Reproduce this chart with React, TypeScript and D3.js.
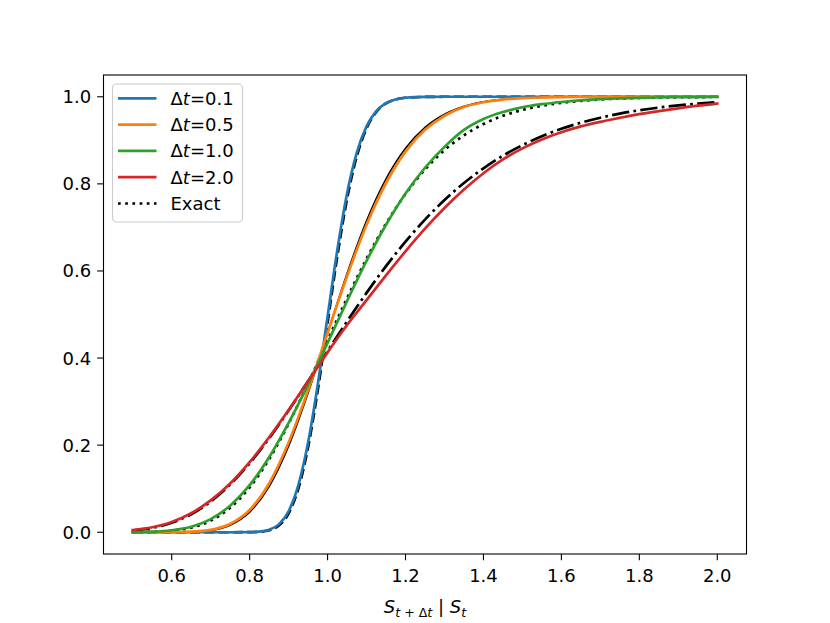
import React from 'react';
import * as d3 from 'd3';

// x grids (S_{t+dt} / S_t)
const xFine = [0.5, 0.6, 0.7, 0.75, 0.8, 0.825, 0.85, 0.875, 0.9, 0.925, 0.95, 0.975, 1.0, 1.025, 1.05, 1.075, 1.1, 1.125, 1.15, 1.175, 1.2, 1.25, 1.3, 1.4, 1.5, 1.6, 1.7, 1.8, 1.9, 2.0];
const xCoarse = [0.5, 0.55, 0.6, 0.65, 0.7, 0.75, 0.8, 0.85, 0.9, 0.95, 1.0, 1.05, 1.1, 1.15, 1.2, 1.25, 1.3, 1.35, 1.4, 1.45, 1.5, 1.55, 1.6, 1.65, 1.7, 1.75, 1.8, 1.85, 1.9, 1.95, 2.0];

// approximated CDFs
const cdfDt01 = [0, 0, 0, 0, 0.0003, 0.0015, 0.0055, 0.018, 0.048, 0.108, 0.206, 0.34, 0.495, 0.648, 0.778, 0.872, 0.932, 0.967, 0.9855, 0.994, 0.9978, 0.9997, 1, 1, 1, 1, 1, 1, 1, 1];
const cdfDt05 = [0, 0, 0.0002, 0.0012, 0.0055, 0.019, 0.051, 0.112, 0.206, 0.326, 0.458, 0.588, 0.706, 0.802, 0.874, 0.924, 0.9565, 0.9765, 0.9875, 0.9935, 0.9968, 0.9984, 0.9992, 0.9996, 0.9998, 0.9999, 1, 1, 1, 1, 1];
const cdfDt10 = [0.0003, 0.0012, 0.0045, 0.0125, 0.03, 0.061, 0.108, 0.172, 0.251, 0.339, 0.435, 0.531, 0.623, 0.706, 0.778, 0.837, 0.885, 0.924, 0.949, 0.965, 0.976, 0.983, 0.988, 0.9918, 0.9946, 0.9963, 0.9976, 0.9984, 0.999, 0.9994, 0.9996];
const cdfDt20 = [0.005, 0.0115, 0.0235, 0.0435, 0.073, 0.112, 0.161, 0.218, 0.2805, 0.3465, 0.413, 0.476, 0.533, 0.59, 0.645, 0.697, 0.7445, 0.787, 0.8245, 0.856, 0.8815, 0.902, 0.9185, 0.932, 0.9425, 0.9515, 0.96, 0.967, 0.9735, 0.9795, 0.9845];

// exact CDFs
const exactDt01 = [0, 0, 0, 0, 0.0002, 0.001, 0.0044, 0.0154, 0.0433, 0.1003, 0.1953, 0.3272, 0.4811, 0.6342, 0.7655, 0.8635, 0.9278, 0.9652, 0.9847, 0.9938, 0.9977, 0.9997, 1, 1, 1, 1, 1, 1, 1, 1];
const exactDt05 = [0, 0, 0.0001, 0.0008, 0.0043, 0.0162, 0.0461, 0.1047, 0.1974, 0.3196, 0.4578, 0.5944, 0.715, 0.8112, 0.8816, 0.9295, 0.9599, 0.9781, 0.9885, 0.9942, 0.9971, 0.9986, 0.9994, 0.9997, 0.9999, 0.9999, 1, 1, 1, 1, 1];
const exactDt10 = [0.0002, 0.0009, 0.0034, 0.0106, 0.0266, 0.0561, 0.1028, 0.1679, 0.2493, 0.3422, 0.4404, 0.5374, 0.628, 0.7084, 0.7769, 0.8329, 0.8773, 0.9116, 0.9373, 0.9562, 0.9698, 0.9794, 0.9861, 0.9907, 0.9938, 0.996, 0.9974, 0.9983, 0.9989, 0.9993, 0.9995];
const exactDt20 = [0.0039, 0.01, 0.0218, 0.0414, 0.0704, 0.1095, 0.1584, 0.2157, 0.2794, 0.347, 0.416, 0.4842, 0.5497, 0.611, 0.6673, 0.718, 0.7628, 0.802, 0.8358, 0.8647, 0.889, 0.9094, 0.9264, 0.9404, 0.9519, 0.9613, 0.969, 0.9752, 0.9802, 0.9842, 0.9874];

const xTicks = [0.6, 0.8, 1.0, 1.2, 1.4, 1.6, 1.8, 2.0];
const yTicks = [0.0, 0.2, 0.4, 0.6, 0.8, 1.0];

const W = 830;
const H = 623;
const margin = { left: 103.5, right: 746.5, top: 75, bottom: 554 };
const FONT = "'DejaVu Sans', sans-serif";
const LW = 2.7;

const series = [
  { label: '0.1', color: '#1f77b4', xs: xFine, ys: cdfDt01 },
  { label: '0.5', color: '#ff7f0e', xs: xCoarse, ys: cdfDt05 },
  { label: '1.0', color: '#2ca02c', xs: xCoarse, ys: cdfDt10 },
  { label: '2.0', color: '#d62728', xs: xCoarse, ys: cdfDt20 },
];

const exact = [
  { xs: xFine, ys: exactDt01, dash: '10 4.3' },
  { xs: xCoarse, ys: exactDt05, dash: null },
  { xs: xCoarse, ys: exactDt10, dash: '2.7 4.5' },
  { xs: xCoarse, ys: exactDt20, dash: '17.3 4.3 2.7 4.3' },
];

export default function App() {
  const x = d3.scaleLinear().domain([0.425, 2.075]).range([margin.left, margin.right]);
  const y = d3.scaleLinear().domain([-0.05, 1.05]).range([margin.bottom, margin.top]);

  const line = (xs: number[], ys: number[]) =>
    d3.line<number>()
      .x((_, i) => x(xs[i]))
      .y(d => y(d))
      .curve(d3.curveMonotoneX)(ys) || '';

  const legendX = 112.5;
  const legendY = 84;
  const rowH = 26.3;

  return (
    <svg width={W} height={H} style={{ position: 'absolute', left: 0, top: 0, background: '#fff' }} fontFamily={FONT}>
      <rect x={0} y={0} width={W} height={H} fill="#fff" />

      {/* exact curves underneath */}
      {exact.map((e, i) => (
        <path key={'e' + i} d={line(e.xs, e.ys)} fill="none" stroke="#000"
          strokeWidth={e.dash ? LW : 1.6}
          strokeDasharray={e.dash || undefined}
          strokeLinecap={e.dash ? 'butt' : 'square'} strokeLinejoin="round" />
      ))}

      {series.map((s, i) => (
        <path key={'s' + i} d={line(s.xs, s.ys)} fill="none" stroke={s.color}
          strokeWidth={LW} strokeLinecap="square" strokeLinejoin="round" />
      ))}

      {/* spines */}
      <rect x={margin.left} y={margin.top} width={margin.right - margin.left} height={margin.bottom - margin.top}
        fill="none" stroke="#000" strokeWidth={1.1} />

      {/* x axis */}
      {xTicks.map(t => (
        <g key={'x' + t}>
          <line x1={x(t)} x2={x(t)} y1={margin.bottom} y2={margin.bottom + 6.3} stroke="#000" strokeWidth={1.1} />
          <text x={x(t)} y={margin.bottom + 28} fontSize={18} textAnchor="middle" fill="#000">{t.toFixed(1)}</text>
        </g>
      ))}

      {/* y axis */}
      {yTicks.map(t => (
        <g key={'y' + t}>
          <line x1={margin.left - 6.3} x2={margin.left} y1={y(t)} y2={y(t)} stroke="#000" strokeWidth={1.1} />
          <text x={margin.left - 12.4} y={y(t) + 6.5} fontSize={18} textAnchor="end" fill="#000">{t.toFixed(1)}</text>
        </g>
      ))}

      {/* x label */}
      <text x={(margin.left + margin.right) / 2} y={613} fontSize={18} textAnchor="middle" fill="#000" style={{ whiteSpace: 'pre' }}>
        <tspan fontStyle="italic">S</tspan>
        <tspan fontSize={12.6} dy={4} fontStyle="italic">t</tspan>
        <tspan fontSize={12.6}>{' + Δ'}</tspan>
        <tspan fontSize={12.6} fontStyle="italic">t</tspan>
        <tspan dy={-4}>{' | '}</tspan>
        <tspan fontStyle="italic">S</tspan>
        <tspan fontSize={12.6} dy={4} fontStyle="italic">t</tspan>
      </text>

      {/* legend */}
      <rect x={legendX} y={legendY} width={130} height={138} rx={4} ry={4}
        fill="#fff" fillOpacity={0.8} stroke="#cccccc" strokeWidth={1.1} />
      {series.map((s, i) => {
        const cy = legendY + 14.3 + i * rowH;
        return (
          <g key={'l' + i}>
            <line x1={legendX + 5.5} x2={legendX + 44} y1={cy} y2={cy} stroke={s.color} strokeWidth={LW} />
            <text x={legendX + 58} y={cy + 6.5} fontSize={18} fill="#000">
              <tspan>Δ</tspan><tspan fontStyle="italic">t</tspan><tspan>={s.label}</tspan>
            </text>
          </g>
        );
      })}
      {(() => {
        const cy = legendY + 14.3 + 4 * rowH;
        return (
          <g>
            <line x1={legendX + 5.5} x2={legendX + 44} y1={cy} y2={cy} stroke="#000" strokeWidth={LW} strokeDasharray="2.7 4.5" />
            <text x={legendX + 58} y={cy + 6.5} fontSize={18} fill="#000">Exact</text>
          </g>
        );
      })()}
    </svg>
  );
}
